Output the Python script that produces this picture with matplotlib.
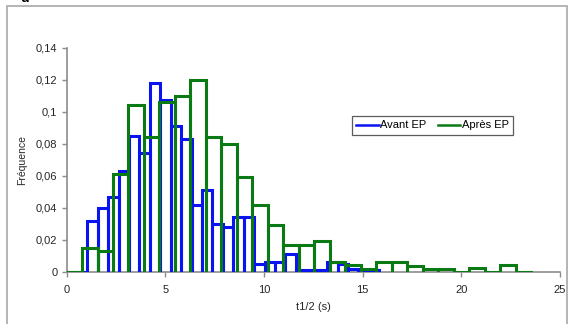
import numpy as np
import matplotlib
matplotlib.use("Agg")
import matplotlib.pyplot as plt
from matplotlib.patches import Rectangle

# Relative frequency of t1/2 per bin (30 equal bins per series)
avant_freq = [0.0, 0.0, 0.032, 0.040, 0.047, 0.063, 0.085, 0.074, 0.118, 0.107,
              0.091, 0.083, 0.042, 0.051, 0.030, 0.028, 0.034, 0.034, 0.005, 0.006,
              0.006, 0.011, 0.001, 0.001, 0.001, 0.006, 0.005, 0.002, 0.001, 0.001]
apres_freq = [0.0, 0.015, 0.0128, 0.061, 0.104, 0.084, 0.106, 0.110, 0.120, 0.084,
              0.080, 0.059, 0.042, 0.029, 0.017, 0.017, 0.019, 0.0058, 0.0042, 0.002,
              0.0062, 0.006, 0.0038, 0.002, 0.002, 0.0, 0.0022, 0.0, 0.0045, 0.0]
avant_max = 15.84   # upper edge of last "Avant EP" bin (s)
apres_max = 23.55   # upper edge of last "Après EP" bin (s)

x_ticks = [0, 5, 10, 15, 20, 25]
y_ticks = [0, 0.02, 0.04, 0.06, 0.08, 0.10, 0.12, 0.14]
y_tick_labels = ["0", "0,02", "0,04", "0,06", "0,08", "0,1", "0,12", "0,14"]


def outline(freq, top):
    """Histogram outline that drops back to zero at every bin edge."""
    freq = np.asarray(freq)
    edges = np.linspace(0, top, len(freq) + 1)
    xs, ys = [], []
    for k, h in enumerate(freq):
        xs += [edges[k], edges[k], edges[k + 1], edges[k + 1]]
        ys += [0, h, h, 0]
    return np.array(xs), np.array(ys)


plt.rcParams["font.family"] = ["Liberation Sans", "DejaVu Sans"]
fig = plt.figure(figsize=(5.69, 3.24), dpi=100)
ax = fig.add_axes([0.1169, 0.1614, 0.8673, 0.6914])

xa, ya = outline(avant_freq, avant_max)
xp, yp = outline(apres_freq, apres_max)
ax.plot(xa, ya, color="#0a14f0", lw=2.2, solid_joinstyle="miter", label="Avant EP", zorder=3)
ax.plot(xp, yp, color="#0a7a14", lw=2.2, solid_joinstyle="miter", label="Après EP", zorder=4)

ax.set_xlim(0, 25)
ax.set_ylim(0, 0.14)
ax.set_xticks(x_ticks)
ax.set_xticklabels([str(t) for t in x_ticks])
ax.set_yticks(y_ticks)
ax.set_yticklabels(y_tick_labels)

axis_col = "#8c8c8c"
text_col = "#262626"
for side in ("top", "right"):
    ax.spines[side].set_visible(False)
for side in ("left", "bottom"):
    ax.spines[side].set_color(axis_col)
    ax.spines[side].set_linewidth(1.2)
ax.tick_params(axis="both", direction="out", length=3.5, width=1, color=axis_col,
               labelsize=8, labelcolor=text_col, pad=3)
ax.tick_params(axis="x", pad=6)

ax.set_xlabel("t1/2 (s)", fontsize=8, color=text_col, labelpad=5)
ax.set_ylabel("Fréquence", fontsize=7.5, color=text_col, labelpad=6)

leg = ax.legend(loc="upper left", bbox_to_anchor=(0.578, 0.696), ncol=2, fontsize=8,
                frameon=True, fancybox=False, handlelength=2.0, handletextpad=0.15,
                columnspacing=1.0, borderpad=0.42, borderaxespad=0)
leg.get_frame().set_edgecolor("#333333")
leg.get_frame().set_linewidth(0.9)
for line in leg.get_lines():
    line.set_linewidth(1.8)

# chart frame and panel letter
fig.patches.append(Rectangle((7 / 569, -0.1), (567 - 7) / 569, 1.1 - 6 / 324,
                             transform=fig.transFigure, fill=False,
                             edgecolor="#a8a8a8", lw=1.2))
fig.text(20 / 569, 1 - 2 / 324, "d", fontsize=10, fontweight="bold",
         va="baseline", ha="left", color="black")

fig.savefig("out.png", dpi=100)
